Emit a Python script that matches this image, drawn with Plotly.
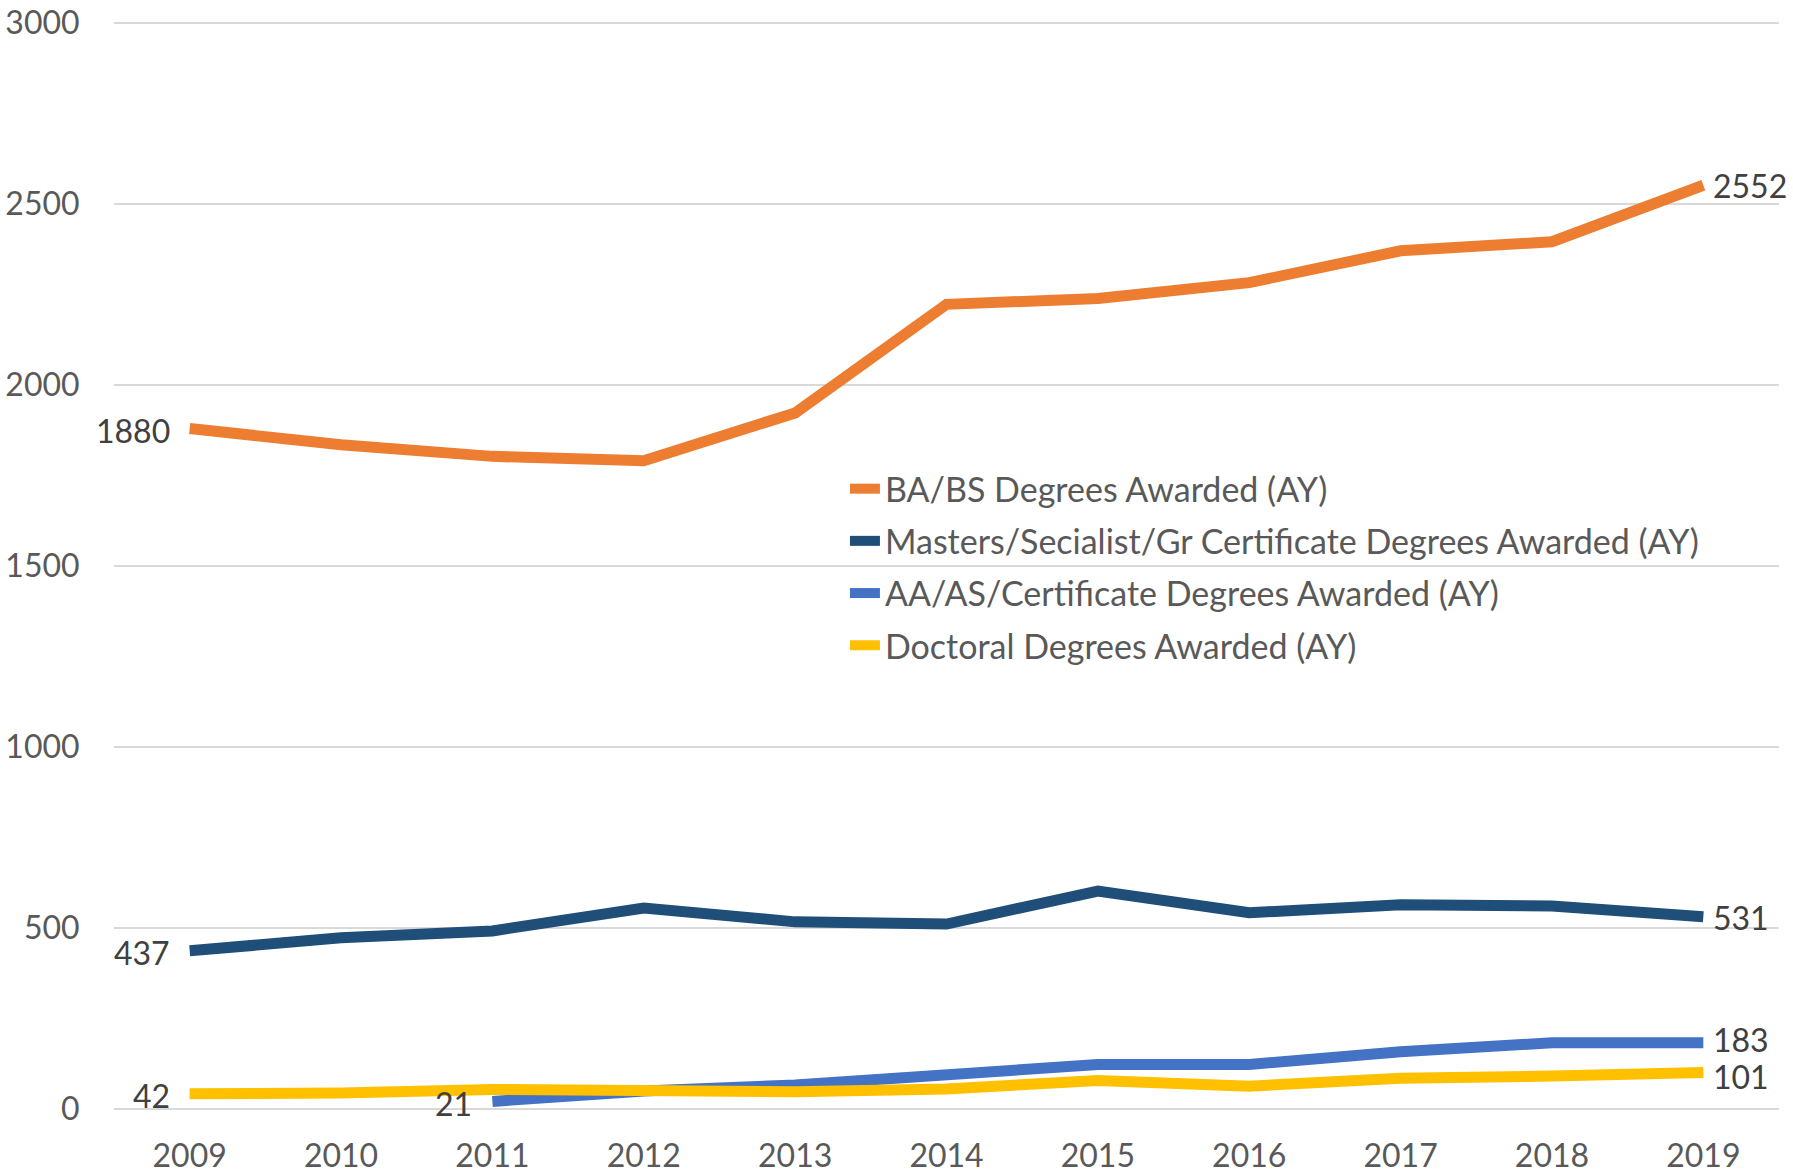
import plotly.graph_objects as go

years = ["2009", "2010", "2011", "2012", "2013", "2014", "2015", "2016", "2017", "2018", "2019"]

ba_bs = [1880, 1835, 1803, 1791, 1923, 2223, 2239, 2283, 2371, 2396, 2552]
masters = [437, 473, 492, 555, 517, 511, 602, 542, 564, 561, 531]
aa_as = [None, None, 21, 50, 66, 95, 123, 123, 158, 183, 183]
doctoral = [42, 44, 54, 53, 48, 55, 79, 63, 85, 91, 101]

series_names = [
    "BA/BS Degrees Awarded (AY)",
    "Masters/Secialist/Gr Certificate Degrees Awarded (AY)",
    "AA/AS/Certificate Degrees Awarded (AY)",
    "Doctoral Degrees Awarded (AY)",
]
series_values = [ba_bs, masters, aa_as, doctoral]
series_colors = ["#ED7D31", "#1F4E79", "#4472C4", "#FFC000"]
# small vertical nudges of the end labels (pixels), per series
end_label_nudge = [0, -1, 3, -4]

y_ticks = [0, 500, 1000, 1500, 2000, 2500, 3000]

FONT = "Lato"
idx = list(range(len(years)))

fig = go.Figure()
for i, (name, vals, col) in enumerate(zip(series_names, series_values, series_colors)):
    fig.add_trace(go.Scatter(
        x=idx, y=vals, name=name, mode="lines",
        line=dict(color=col, width=11),
        legendgroup=f"g{i}", connectgaps=False,
    ))

annotations = []
for vals, nudge in zip(series_values, end_label_nudge):
    pts = [(k, v) for k, v in zip(idx, vals) if v is not None]
    k0, v0 = pts[0]
    k1, v1 = pts[-1]
    annotations.append(dict(
        x=k0, y=v0, xref="x", yref="y", text=str(v0), showarrow=False,
        xanchor="right", yanchor="middle", xshift=-18, yshift=-2,
        font=dict(family=FONT, size=32, color="#404040"),
    ))
    annotations.append(dict(
        x=k1, y=v1, xref="x", yref="y", text=str(v1), showarrow=False,
        xanchor="left", yanchor="middle", xshift=8, yshift=nudge,
        font=dict(family=FONT, size=32, color="#404040"),
    ))

fig.update_layout(
    width=1793, height=1175,
    margin=dict(l=114, r=14, t=22, b=66, autoexpand=False),
    paper_bgcolor="white", plot_bgcolor="white",
    font=dict(family=FONT, size=32, color="#595959"),
    showlegend=True,
    legend=dict(
        x=0.439, y=0.597, xanchor="left", yanchor="top",
        bgcolor="rgba(0,0,0,0)", font=dict(family=FONT, size=34, color="#595959"),
        tracegroupgap=5, itemwidth=30,
    ),
    annotations=annotations,
)
fig.update_xaxes(
    tickmode="array", tickvals=idx, ticktext=years,
    range=[-0.5, len(years) - 0.5], automargin=False,
    showgrid=False, zeroline=False, showline=False,
    ticks="outside", ticklen=19, tickcolor="rgba(0,0,0,0)",
    tickfont=dict(family=FONT, size=32, color="#595959"),
)
fig.update_yaxes(
    tickmode="array", tickvals=y_ticks, range=[0, 3003], automargin=False,
    showgrid=True, gridcolor="#D9D9D9", gridwidth=2,
    zeroline=True, zerolinecolor="#D9D9D9", zerolinewidth=2,
    showline=False,
    ticks="outside", ticklen=27, tickcolor="rgba(0,0,0,0)",
    tickfont=dict(family=FONT, size=32, color="#595959"),
)

# remove the browser's default 8px body margin so the figure fills the window
fig.write_html(
    "out.html",
    config={"displayModeBar": False},
    post_script="document.body.style.margin='0px';",
)
